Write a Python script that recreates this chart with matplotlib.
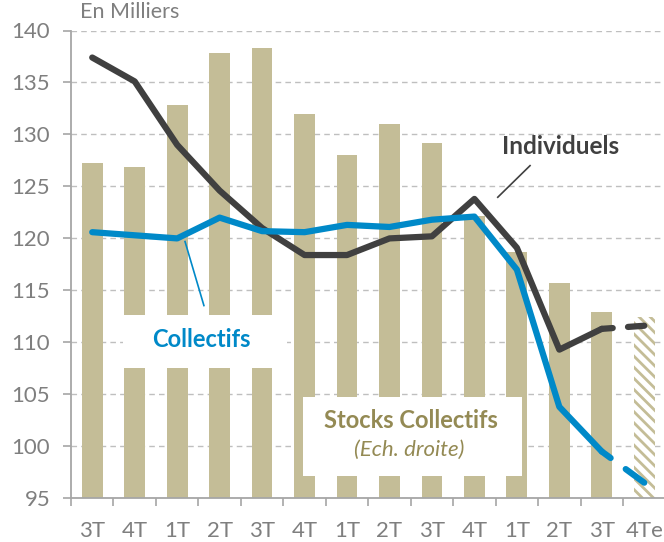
import matplotlib
matplotlib.use("Agg")
import matplotlib.pyplot as plt
from matplotlib.patches import Rectangle

plt.rcParams['font.family'] = ['Lato', 'DejaVu Sans']
plt.rcParams['hatch.linewidth'] = 2.0

# ---- data ----
categories = ["3T", "4T", "1T", "2T", "3T", "4T", "1T", "2T", "3T", "4T", "1T", "2T", "3T", "4Te"]
stocks_collectifs = [127.3, 126.9, 132.8, 137.8, 138.3, 132.0, 128.0, 131.0, 129.2, 122.2, 118.7, 115.7, 112.9, 112.4]
individuels = [137.4, 135.1, 129.0, 124.6, 121.0, 118.4, 118.4, 120.0, 120.2, 123.8, 119.1, 109.3, 111.3, 111.6]
collectifs = [120.6, 120.3, 120.0, 122.0, 120.7, 120.6, 121.3, 121.1, 121.8, 122.1, 117.0, 103.8, 99.5, 96.5]
yticks = [95, 100, 105, 110, 115, 120, 125, 130, 135, 140]

TAN = "#C4BD97"
BLUE = "#0089C8"
DARK = "#404040"
GREY = "#7F7F7F"
OLIVE = "#948A54"

fig = plt.figure(figsize=(6.64, 5.42), dpi=100)
ax = fig.add_axes([71/664, 1-498.3/542, 594.5/664, (498.3-30.5)/542])

x = list(range(len(categories)))
n = len(categories)

# bars (stock, right scale)
ax.bar(x[:-1], stocks_collectifs[:-1], width=0.49, color=TAN, zorder=2)
ax.bar(x[-1:], stocks_collectifs[-1:], width=0.49, color="white", edgecolor=TAN,
       linewidth=0, hatch="\\\\\\", zorder=2)

# white label boxes
ax.add_patch(Rectangle((0.725, 107.5), 4.587-0.725, 112.6-107.5, facecolor="white",
                       edgecolor="none", zorder=3))
ax.add_patch(Rectangle((4.957, 97.1), 10.12-4.957, 104.7-97.1, facecolor="white",
                       edgecolor="none", zorder=3))

lw = 4.5
# Individuels
ax.plot(x[:-1], individuels[:-1], color=DARK, lw=lw, zorder=5,
        solid_capstyle="round", solid_joinstyle="round")
ax.plot(x[-2:], individuels[-2:], color=DARK, lw=lw, zorder=5,
        dashes=(1.75, 2.45, 5, 1), dash_capstyle="round")
# Collectifs
ax.plot(x[:-1], collectifs[:-1], color=BLUE, lw=lw, zorder=6,
        solid_capstyle="round", solid_joinstyle="round")
ax.plot(x[-2:], collectifs[-2:], color=BLUE, lw=lw, zorder=6,
        dashes=(1.75, 3.0, 5, 1), dash_capstyle="round")

# annotations
ax.text(2.578, 110.3, "Collectifs", color=BLUE, fontsize=17, fontweight="bold",
        ha="center", va="center", zorder=7)
ax.plot([2.185, 2.63], [119.7, 113.54], color=BLUE, lw=1.2, zorder=7)
ax.text(11.02, 128.8, "Individuels", color=DARK, fontsize=17.5, fontweight="bold",
        ha="center", va="center", zorder=7)
ax.plot([10.31, 9.55], [127.0, 123.96], color=DARK, lw=1.2, zorder=7)
ax.text(7.5, 102.5, "Stocks Collectifs", color=OLIVE, fontsize=17, fontweight="bold",
        ha="center", va="center", zorder=7)
ax.text(7.47, 99.65, "(Ech. droite)", color=OLIVE, fontsize=16, fontstyle="italic",
        ha="center", va="center", zorder=7)

# axes styling
ax.set_xlim(-0.5, n - 0.5)
ax.set_ylim(95, 140)
ax.set_yticks(yticks)
ax.set_xticks(x)
ax.set_xticklabels(categories)
ax.set_xticks([i - 0.5 for i in range(n + 1)], minor=True)
ax.tick_params(axis="x", which="major", length=0, pad=16, labelsize=16, labelcolor=GREY)
ax.tick_params(axis="x", which="minor", length=6, width=1.2, color="#A6A6A6")
ax.tick_params(axis="y", length=6, width=1.2, color="#A6A6A6", pad=9,
               labelsize=16, labelcolor=GREY)
ax.grid(axis="y", color="#BFBFBF", linestyle=(0, (4, 3)), lw=1.0, zorder=0)
ax.set_axisbelow(True)
for s in ["top", "right"]:
    ax.spines[s].set_visible(False)
for s in ["left", "bottom"]:
    ax.spines[s].set_color("#A6A6A6")
    ax.spines[s].set_linewidth(1.3)

fig.text(80/664, 1-12/542, "En Milliers", color=GREY, fontsize=15.5, ha="left", va="center")

fig.savefig("out.png", dpi=100)
